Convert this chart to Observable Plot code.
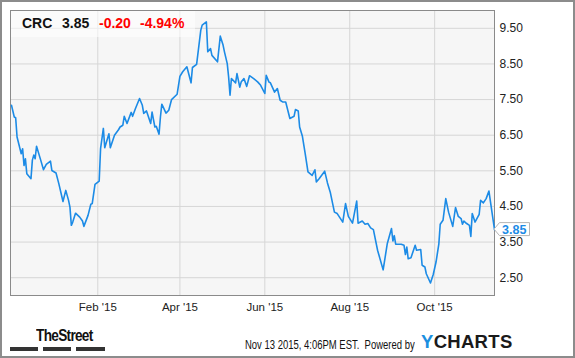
<!DOCTYPE html>
<html>
<head>
<meta charset="utf-8">
<script src="https://cdn.jsdelivr.net/npm/d3@7"></script>
<script src="https://cdn.jsdelivr.net/npm/@observablehq/plot@0.6"></script>
<style>
  html, body { margin: 0; padding: 0; background: #fff; }
  #wrap { position: relative; width: 575px; height: 358px; overflow: hidden; font-family: "Liberation Sans", Arial, sans-serif; }
  #border { position: absolute; left: 0; top: 0; width: 575px; height: 358px; box-sizing: border-box; border: 2px solid #8c8c8c; pointer-events: none; }
  .abs { position: absolute; white-space: nowrap; line-height: 1; }
</style>
</head>
<body>
<div id="wrap"></div>
<script>
// ---- data ----
const ticker = "CRC";
const lastPrice = "3.85";
const change = "-0.20";
const changePct = "-4.94%";
const stamp = "Nov 13 2015, 4:06PM EST.";

const dates = [
  "2014-12-01","2014-12-03","2014-12-04","2014-12-05","2014-12-08","2014-12-09","2014-12-10","2014-12-11","2014-12-12","2014-12-15",
  "2014-12-16","2014-12-17","2014-12-18","2014-12-19","2014-12-22","2014-12-24","2014-12-26","2014-12-29","2014-12-30",
  "2015-01-02","2015-01-04","2015-01-07","2015-01-09","2015-01-11","2015-01-12","2015-01-13","2015-01-14","2015-01-16","2015-01-19",
  "2015-01-21","2015-01-22","2015-01-25","2015-01-27","2015-01-28","2015-01-30",
  "2015-02-02","2015-02-03","2015-02-05","2015-02-06","2015-02-09","2015-02-10","2015-02-13","2015-02-16","2015-02-17","2015-02-19",
  "2015-02-20","2015-02-22","2015-02-25","2015-02-26","2015-02-28",
  "2015-03-03","2015-03-05","2015-03-06","2015-03-08","2015-03-11","2015-03-12","2015-03-14","2015-03-15","2015-03-17","2015-03-18",
  "2015-03-19","2015-03-22","2015-03-24","2015-03-26","2015-03-30",
  "2015-04-01","2015-04-03","2015-04-06","2015-04-09","2015-04-10","2015-04-13","2015-04-16","2015-04-17","2015-04-20","2015-04-21",
  "2015-04-23","2015-04-24","2015-04-28","2015-04-30",
  "2015-05-02","2015-05-03","2015-05-05","2015-05-06","2015-05-07","2015-05-08","2015-05-11","2015-05-12","2015-05-14","2015-05-15",
  "2015-05-17","2015-05-19","2015-05-21","2015-05-24","2015-05-27","2015-05-29",
  "2015-06-01","2015-06-02","2015-06-04","2015-06-05","2015-06-08","2015-06-10","2015-06-12","2015-06-14","2015-06-16","2015-06-19",
  "2015-06-22","2015-06-23","2015-06-25","2015-06-26","2015-06-28","2015-06-30",
  "2015-07-02","2015-07-05","2015-07-07","2015-07-08","2015-07-10","2015-07-14","2015-07-16","2015-07-18","2015-07-21","2015-07-23",
  "2015-07-27","2015-07-29","2015-07-31",
  "2015-08-03","2015-08-06","2015-08-07","2015-08-10","2015-08-12","2015-08-14","2015-08-16","2015-08-18","2015-08-21","2015-08-25",
  "2015-08-28","2015-08-31",
  "2015-09-01","2015-09-02","2015-09-03","2015-09-07","2015-09-09","2015-09-10","2015-09-11","2015-09-12","2015-09-14","2015-09-17",
  "2015-09-18","2015-09-21","2015-09-22","2015-09-24","2015-09-25","2015-09-28","2015-09-30",
  "2015-10-02","2015-10-04","2015-10-05","2015-10-07","2015-10-09","2015-10-11","2015-10-14","2015-10-16","2015-10-18","2015-10-20",
  "2015-10-21","2015-10-22","2015-10-24","2015-10-26","2015-10-27","2015-10-28","2015-10-30",
  "2015-11-02","2015-11-03","2015-11-05","2015-11-07","2015-11-09","2015-11-11","2015-11-13"
];
const prices = [
  7.34,7.01,6.99,6.45,5.98,6.12,5.65,5.84,5.42,5.28,
  5.80,5.94,5.84,6.19,5.80,5.53,5.68,5.77,5.51,
  5.44,5.14,4.64,4.95,4.67,4.48,3.97,4.06,4.31,4.20,
  4.09,3.94,4.25,4.56,4.58,5.12,
  5.21,6.12,6.69,6.15,6.54,6.15,6.50,6.66,6.73,6.78,
  7.03,6.83,7.14,7.03,7.24,
  7.53,7.34,7.11,7.18,6.83,7.15,6.73,6.75,6.53,7.01,
  7.37,7.12,7.20,7.50,7.65,
  8.15,8.28,8.42,7.97,8.40,8.49,9.45,9.59,9.68,8.84,
  8.93,8.74,8.56,9.28,
  9.03,8.84,8.51,8.13,7.62,8.09,7.97,8.23,7.85,7.99,
  8.09,7.87,8.17,8.09,7.99,7.90,
  7.67,8.18,7.99,7.97,7.71,7.81,7.48,7.43,7.43,6.97,
  7.03,7.22,7.18,6.73,6.47,5.98,
  5.47,5.37,5.53,5.19,5.28,5.49,5.16,4.90,4.34,4.30,
  4.06,4.58,4.22,
  4.03,4.65,4.03,4.09,4.00,4.02,3.90,3.85,3.27,2.72,
  3.46,3.88,
  3.53,3.68,3.44,3.44,3.41,3.15,3.36,3.03,3.06,3.41,
  3.27,3.29,2.85,2.80,2.61,2.35,2.59,
  2.94,3.44,4.00,4.11,4.72,4.34,3.94,4.47,4.22,4.16,
  4.00,4.09,4.02,3.97,3.66,4.30,4.06,
  4.28,4.67,4.60,4.72,4.93,4.39,3.85
];
const yTicks = [2.5, 3.5, 4.5, 5.5, 6.5, 7.5, 8.5, 9.5];
const xTickDates = ["2015-02-01","2015-04-01","2015-06-01","2015-08-01","2015-10-01"];

// ---- build ----
const data = dates.map((d, i) => ({date: new Date(d + "T00:00:00Z"), price: prices[i]}));
const xTicks = xTickDates.map(d => new Date(d + "T00:00:00Z"));
const fmtX = d3.utcFormat("%b '%y");
const lineColor = "#1c8be6";

const chart = Plot.plot({
  width: 575,
  height: 358,
  marginLeft: 10,
  marginRight: 81,
  marginTop: 10,
  marginBottom: 63,
  style: {background: "transparent", fontFamily: "'Liberation Sans', Arial, sans-serif", fontSize: "12px", color: "#222", overflow: "visible"},
  x: {type: "utc", domain: [new Date(Date.UTC(2014, 10, 30, 7)), new Date(Date.UTC(2015, 10, 13, 0))], label: null},
  y: {domain: [2, 10], label: null},
  marks: [
    Plot.frame({fill: "#f6f6f6", stroke: null}),
    Plot.gridX(xTicks, {stroke: "#d6d6d6", strokeOpacity: 1, strokeWidth: 1}),
    Plot.gridY(yTicks, {stroke: "#d6d6d6", strokeOpacity: 1, strokeWidth: 1}),
    Plot.frame({stroke: "#8a8a8a", strokeWidth: 1}),
    Plot.line(data, {x: "date", y: "price", stroke: lineColor, strokeWidth: 1.6}),
    Plot.axisY(yTicks, {anchor: "right", tickSize: 0, tickPadding: 5, tickFormat: d => d.toFixed(2), fill: "#222", fontSize: 12}),
    Plot.axisX(xTicks, {anchor: "bottom", tickSize: 0, tickPadding: 7, tickFormat: fmtX, fill: "#222", fontSize: 11.5})
  ]
});

const wrap = document.getElementById("wrap");
chart.style.position = "absolute";
chart.style.left = "0px";
chart.style.top = "0px";
wrap.appendChild(chart);

// last value flag, positioned through the scales
const xs = chart.scale("x"), ys = chart.scale("y");
const last = data[data.length - 1];
const tx = xs.apply(last.date), ty = ys.apply(last.price);
const ns = "http://www.w3.org/2000/svg";
const g = document.createElementNS(ns, "g");
const poly = document.createElementNS(ns, "polygon");
const bx = tx + 5.5, bw = 30, bh = 13;
poly.setAttribute("points", `${tx},${ty} ${bx},${ty - bh/2} ${bx + bw},${ty - bh/2} ${bx + bw},${ty + bh/2} ${bx},${ty + bh/2}`);
poly.setAttribute("fill", "#fff");
poly.setAttribute("stroke", "#b5b5b5");
poly.setAttribute("stroke-width", "1");
g.appendChild(poly);
const t = document.createElementNS(ns, "text");
t.setAttribute("x", bx + 2.5);
t.setAttribute("y", ty);
t.setAttribute("dy", "0.36em");
t.setAttribute("text-anchor", "start");
t.setAttribute("fill", lineColor);
t.setAttribute("font-weight", "bold");
t.setAttribute("font-size", "12.5");
t.setAttribute("font-family", "'Liberation Sans', Arial, sans-serif");
t.textContent = lastPrice;
g.appendChild(t);
chart.appendChild(g);

// header box and texts
function addDiv(html, css) {
  const d = document.createElement("div");
  d.className = "abs";
  d.innerHTML = html;
  Object.assign(d.style, css);
  wrap.appendChild(d);
  return d;
}
addDiv("", {left: "11px", top: "11px", width: "184px", height: "26px", background: "rgba(255,255,255,0.55)"});
const hdr = {top: "16px", fontSize: "14px", fontWeight: "bold"};
addDiv(ticker, {...hdr, left: "22px", color: "#111"});
addDiv(lastPrice, {...hdr, left: "62px", color: "#111"});
addDiv(change, {...hdr, left: "99px", color: "#f00"});
addDiv(changePct, {...hdr, left: "140px", color: "#f00"});

// footer
addDiv("TheStreet", {left: "36px", top: "328px", fontFamily: "'Liberation Sans Narrow', 'Liberation Sans', Arial, sans-serif", fontSize: "16px", fontWeight: "bold", color: "#111", letterSpacing: "-0.8px", transform: "scaleX(0.85)", transformOrigin: "left"});
[[10, 28], [43, 28], [76, 29]].forEach(([l, w]) => addDiv("", {left: l + "px", top: "347px", width: w + "px", height: "4px", background: "#333"}));
addDiv(stamp + "&nbsp; Powered by", {left: "245px", top: "339px", fontSize: "12px", color: "#111", transform: "scaleX(0.79)", transformOrigin: "left"});
addDiv('<span style="color:#1b8fe0">Y</span><span style="color:#1a1a1a">CHARTS</span>', {left: "421px", top: "333px", fontSize: "18.5px", fontWeight: "bold", letterSpacing: "0.3px"});

const b = document.createElement("div");
b.id = "border";
wrap.appendChild(b);
</script>
</body>
</html>
